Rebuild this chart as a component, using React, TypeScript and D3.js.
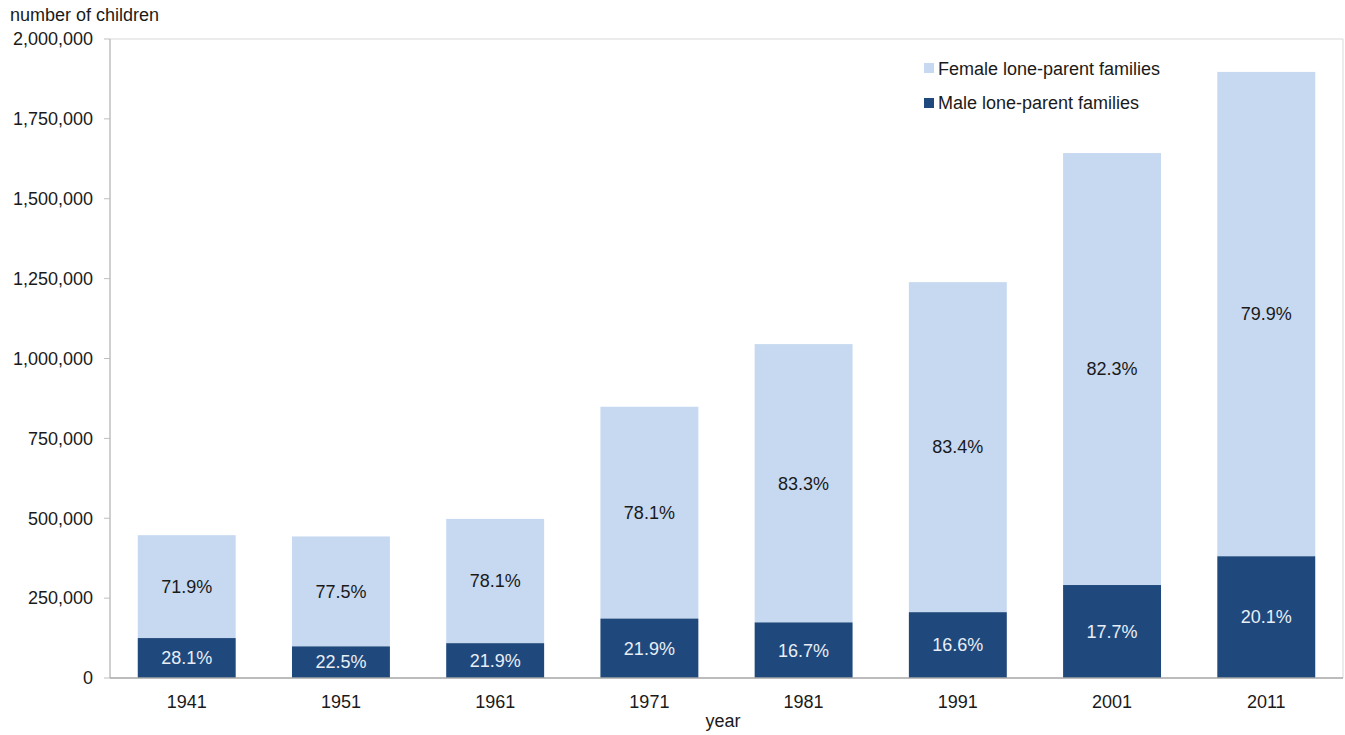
import * as d3 from "d3";

const years = ["1941", "1951", "1961", "1971", "1981", "1991", "2001", "2011"];
const maleValues = [125000, 99000, 109000, 186000, 174000, 206000, 291000, 381000];
const femaleValues = [322000, 344000, 389000, 663000, 871000, 1033000, 1352000, 1516000];
const malePct = ["28.1%", "22.5%", "21.9%", "21.9%", "16.7%", "16.6%", "17.7%", "20.1%"];
const femalePct = ["71.9%", "77.5%", "78.1%", "78.1%", "83.3%", "83.4%", "82.3%", "79.9%"];
const yTicks = [0, 250000, 500000, 750000, 1000000, 1250000, 1500000, 1750000, 2000000];

const WIDTH = 1345;
const HEIGHT = 735;
const margin = { top: 39, right: 2, bottom: 57, left: 110 };
const FEMALE = "#c6d9f1";
const MALE = "#1f497d";
const FONT = "'Liberation Sans', Arial, sans-serif";

const App = () => {
  const x = d3
    .scaleBand()
    .domain(years)
    .range([margin.left, WIDTH - margin.right])
    .paddingInner(0.365)
    .paddingOuter(0.18);
  const y = d3
    .scaleLinear()
    .domain([0, 2000000])
    .range([HEIGHT - margin.bottom, margin.top]);
  const fmt = d3.format(",");
  const x0 = margin.left;
  const x1 = WIDTH - margin.right;
  const yb = y(0);

  return (
    <svg
      width={WIDTH}
      height={HEIGHT}
      style={{ position: "absolute", left: 0, top: 0, background: "#fff" }}
      fontFamily={FONT}
    >
      {/* frame */}
      <line x1={x0} x2={x1} y1={margin.top} y2={margin.top} stroke="#d9d9d9" />
      <line x1={x1} x2={x1} y1={margin.top} y2={yb} stroke="#d9d9d9" />
      <line x1={x0} x2={x0} y1={margin.top} y2={yb} stroke="#bfbfbf" strokeWidth={1.5} />

      {/* y ticks */}
      {yTicks.map((t) => (
        <g key={t}>
          <line x1={x0 - 6} x2={x0} y1={y(t)} y2={y(t)} stroke="#bfbfbf" />
          <text x={x0 - 17} y={y(t)} dy="0.35em" textAnchor="end" fontSize={18} fill="#1a1a1a">
            {fmt(t)}
          </text>
        </g>
      ))}

      {/* bars */}
      {years.map((yr, i) => {
        const bx = x(yr)!;
        const bw = x.bandwidth();
        const m = maleValues[i];
        const total = m + femaleValues[i];
        return (
          <g key={yr}>
            <rect x={bx} y={y(total)} width={bw} height={y(m) - y(total)} fill={FEMALE} />
            <rect x={bx} y={y(m)} width={bw} height={yb - y(m)} fill={MALE} />
            <text
              x={bx + bw / 2}
              y={(y(total) + y(m)) / 2}
              dy="0.35em"
              textAnchor="middle"
              fontSize={18}
              fill="#1a1a1a"
            >
              {femalePct[i]}
            </text>
            <text
              x={bx + bw / 2}
              y={(y(m) + yb) / 2}
              dy="0.35em"
              textAnchor="middle"
              fontSize={18}
              fill="#e9eef6"
            >
              {malePct[i]}
            </text>
            <text x={bx + bw / 2} y={yb + 30} textAnchor="middle" fontSize={18} fill="#1a1a1a">
              {yr}
            </text>
          </g>
        );
      })}

      <line x1={x0} x2={x1} y1={yb} y2={yb} stroke="#a6a6a6" strokeWidth={1.5} />

      {/* titles */}
      <text x={10} y={21} fontSize={18} fill="#1a1a1a">
        number of children
      </text>
      <text x={723} y={727} textAnchor="middle" fontSize={18} fill="#1a1a1a">
        year
      </text>

      {/* legend */}
      <rect x={924} y={63} width={10} height={10} fill={FEMALE} />
      <text x={938} y={69} dy="0.35em" fontSize={18} fill="#1a1a1a">
        Female lone-parent families
      </text>
      <rect x={924} y={98} width={10} height={10} fill={MALE} />
      <text x={938} y={103} dy="0.35em" fontSize={18} fill="#1a1a1a">
        Male lone-parent families
      </text>
    </svg>
  );
};

export default App;
